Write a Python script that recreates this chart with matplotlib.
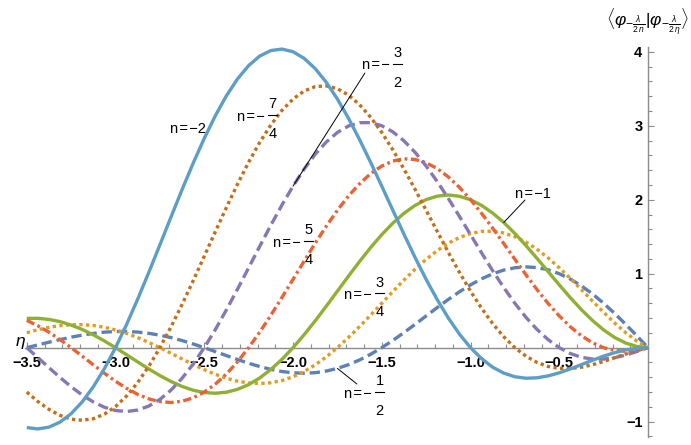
import matplotlib
matplotlib.use('Agg')
import matplotlib.pyplot as plt
from matplotlib.transforms import Affine2D
from matplotlib.lines import Line2D

plt.rcParams['font.family'] = ['Liberation Sans', 'DejaVu Sans']
plt.rcParams['mathtext.fontset'] = 'custom'
plt.rcParams['mathtext.rm'] = 'Liberation Sans'
plt.rcParams['mathtext.it'] = 'Liberation Sans:italic'
plt.rcParams['mathtext.bf'] = 'Liberation Sans:bold'
plt.rcParams['lines.scale_dashes'] = False

# ---------------- data ----------------
eta = [-3.5, -3.4375, -3.375, -3.3125, -3.25, -3.1875, -3.125, -3.0625,
       -3.0, -2.9375, -2.875, -2.8125, -2.75, -2.6875, -2.625, -2.5625,
       -2.5, -2.4375, -2.375, -2.3125, -2.25, -2.1875, -2.125, -2.0625,
       -2.0, -1.9375, -1.875, -1.8125, -1.75, -1.6875, -1.625, -1.5625,
       -1.5, -1.4375, -1.375, -1.3125, -1.25, -1.1875, -1.125, -1.0625,
       -1.0, -0.9375, -0.875, -0.8125, -0.75, -0.6875, -0.625, -0.5625,
       -0.5, -0.4375, -0.375, -0.3125, -0.25, -0.1875, -0.125, -0.0625, 0.0]

n_m2 = [-1.080, -1.098, -1.074, -1.006, -0.892, -0.732, -0.528, -0.283,
        0.000, 0.315, 0.657, 1.018, 1.390, 1.766, 2.137, 2.494,
        2.829, 3.136, 3.406, 3.633, 3.813, 3.942, 4.016, 4.036,
        4.000, 3.911, 3.772, 3.587, 3.361, 3.101, 2.812, 2.504,
        2.183, 1.857, 1.534, 1.220, 0.923, 0.649, 0.401, 0.184,
        0.000, -0.149, -0.264, -0.344, -0.393, -0.413, -0.407, -0.381,
        -0.340, -0.287, -0.229, -0.170, -0.114, -0.067, -0.031, -0.008, 0.000]

n_m7_4 = [-0.600, -0.728, -0.834, -0.915, -0.966, -0.981, -0.960, -0.898,
          -0.796, -0.653, -0.471, -0.252, 0.000, 0.281, 0.585, 0.905,
          1.236, 1.569, 1.896, 2.212, 2.507, 2.775, 3.010, 3.207,
          3.361, 3.469, 3.529, 3.538, 3.500, 3.415, 3.284, 3.114,
          2.909, 2.674, 2.415, 2.141, 1.857, 1.571, 1.289, 1.018,
          0.764, 0.532, 0.325, 0.147, 0.000, -0.115, -0.200, -0.254,
          -0.280, -0.282, -0.264, -0.230, -0.186, -0.135, -0.085, -0.038, 0.000]

n_m3_2 = [0.000, -0.134, -0.270, -0.403, -0.528, -0.640, -0.734, -0.805,
          -0.849, -0.863, -0.843, -0.789, -0.699, -0.574, -0.413, -0.221,
          0.000, 0.246, 0.512, 0.792, 1.080, 1.370, 1.655, 1.928,
          2.183, 2.413, 2.614, 2.780, 2.909, 2.996, 3.041, 3.042,
          3.000, 2.917, 2.796, 2.641, 2.455, 2.246, 2.017, 1.775,
          1.528, 1.281, 1.040, 0.812, 0.600, 0.410, 0.246, 0.108,
          0.000, -0.079, -0.130, -0.154, -0.154, -0.135, -0.099, -0.052, 0.000]

n_m5_4 = [0.369, 0.296, 0.209, 0.109, 0.000, -0.115, -0.232, -0.346,
          -0.454, -0.550, -0.631, -0.692, -0.729, -0.741, -0.724, -0.678,
          -0.600, -0.492, -0.355, -0.190, 0.000, 0.211, 0.438, 0.678,
          0.923, 1.170, 1.412, 1.642, 1.857, 2.050, 2.216, 2.353,
          2.455, 2.523, 2.553, 2.544, 2.500, 2.421, 2.308, 2.167,
          2.001, 1.815, 1.615, 1.406, 1.194, 0.985, 0.784, 0.597,
          0.429, 0.282, 0.161, 0.066, 0.000, -0.038, -0.049, -0.036, 0.000]

n_m1 = [0.396, 0.397, 0.382, 0.352, 0.306, 0.246, 0.174, 0.091,
        0.000, -0.096, -0.193, -0.288, -0.377, -0.457, -0.524, -0.575,
        -0.606, -0.616, -0.602, -0.563, -0.499, -0.409, -0.295, -0.158,
        0.000, 0.175, 0.363, 0.561, 0.764, 0.967, 1.165, 1.354,
        1.528, 1.683, 1.816, 1.923, 2.001, 2.048, 2.064, 2.047,
        2.000, 1.923, 1.819, 1.692, 1.543, 1.380, 1.206, 1.028,
        0.849, 0.676, 0.513, 0.367, 0.240, 0.137, 0.062, 0.016, 0.000]

n_m3_4 = [0.202, 0.243, 0.275, 0.298, 0.310, 0.311, 0.300, 0.276,
          0.240, 0.193, 0.136, 0.071, 0.000, -0.075, -0.152, -0.226,
          -0.297, -0.360, -0.413, -0.453, -0.477, -0.485, -0.474, -0.444,
          -0.393, -0.322, -0.232, -0.124, 0.000, 0.138, 0.286, 0.441,
          0.600, 0.759, 0.914, 1.060, 1.194, 1.312, 1.412, 1.489,
          1.543, 1.572, 1.575, 1.550, 1.500, 1.427, 1.329, 1.213,
          1.080, 0.936, 0.784, 0.630, 0.478, 0.333, 0.202, 0.089, 0.000]

n_m1_2 = [0.000, 0.037, 0.074, 0.109, 0.142, 0.170, 0.193, 0.210,
          0.218, 0.219, 0.211, 0.194, 0.169, 0.136, 0.096, 0.050,
          0.000, -0.053, -0.107, -0.160, -0.211, -0.255, -0.293, -0.322,
          -0.340, -0.345, -0.338, -0.316, -0.280, -0.230, -0.166, -0.089,
          0.000, 0.098, 0.204, 0.315, 0.429, 0.542, 0.652, 0.755,
          0.849, 0.931, 0.998, 1.049, 1.080, 1.092, 1.083, 1.053,
          1.000, 0.927, 0.835, 0.726, 0.600, 0.462, 0.314, 0.159, 0.000]

x_ticks = [-3.5, -3.0, -2.5, -2.0, -1.5, -1.0, -0.5]
x_tick_labels = ['\u22123.5', '\u22123.0', '\u22122.5', '\u22122.0',
                 '\u22121.5', '\u22121.0', '\u22120.5']
x_minor = [-3.4, -3.3, -3.2, -3.1, -2.9, -2.8, -2.7, -2.6, -2.4, -2.3, -2.2,
           -2.1, -1.9, -1.8, -1.7, -1.6, -1.4, -1.3, -1.2, -1.1, -0.9, -0.8,
           -0.7, -0.6, -0.4, -0.3, -0.2, -0.1]
y_ticks = [-1, 1, 2, 3, 4]
y_tick_labels = ['\u22121', '1', '2', '3', '4']
y_minor = [-1.2, -0.8, -0.6, -0.4, -0.2, 0.2, 0.4, 0.6, 0.8, 1.2, 1.4, 1.6,
           1.8, 2.2, 2.4, 2.6, 2.8, 3.2, 3.4, 3.6, 3.8, 4.0]

# ---------------- styling ----------------
W, H = 691, 445
fig = plt.figure(figsize=(W / 100, H / 100), dpi=100)
ax = fig.add_axes([25 / W, 7.8 / H, 623 / W, 389.9 / H])
ax.set_xlim(-3.51, 0.0)
ax.set_ylim(-1.21, 4.06)
ax.patch.set_visible(False)

axis_gray = '#8c8c8c'
for side in ('top', 'right'):
    ax.spines[side].set_visible(False)
ax.spines['left'].set_position(('data', 0))
ax.spines['bottom'].set_position(('data', 0))
for side in ('left', 'bottom'):
    ax.spines[side].set_color(axis_gray)
    ax.spines[side].set_linewidth(1.0)
    ax.spines[side].set_zorder(1)

ax.set_xticks(x_ticks)
ax.set_xticklabels(x_tick_labels, fontweight='bold')
ax.set_xticks(x_minor, minor=True)
ax.set_yticks(y_ticks)
ax.set_yticklabels(y_tick_labels, fontweight='bold')
ax.set_yticks(y_minor, minor=True)
ax.tick_params(axis='both', which='major', direction='in', length=4.5,
               width=0.8, color=axis_gray, labelsize=10.5, labelcolor='black')
ax.tick_params(axis='both', which='minor', direction='in', length=2.6,
               width=0.8, color=axis_gray)
ax.tick_params(axis='x', which='major', pad=6)
ax.tick_params(axis='y', which='major', pad=4)

series = [
    (n_m1_2, '#5E81B5', (0, (7.5, 3.5)), 3),
    (n_m3_4, '#E19C24', (0, (2.4, 2.4)), 4),
    (n_m1, '#8FB032', '-', 5),
    (n_m5_4, '#EB6235', (0, (6.0, 2.5, 2.0, 2.5)), 6),
    (n_m3_2, '#8778B3', (0, (7.5, 3.5)), 7),
    (n_m7_4, '#C56E1A', (0, (2.4, 2.4)), 8),
    (n_m2, '#5D9EC7', '-', 9),
]
for vals, col, ls, z in series:
    ax.plot(eta, vals, color=col, lw=2.4, linestyle=ls, dash_capstyle='butt',
            solid_capstyle='butt', zorder=z, clip_on=False)

FS = 10.5
HS = '\u200a'  # hair space
PREFIX = 'n' + HS + '=' + HS + '\u2212'


def frac_label(x, y, num, den):
    """'n = -num/den' label: (x, y) = left of 'n', height of the fraction bar."""
    px, py = ax.transData.transform((x, y))
    tr = Affine2D().translate(px, py)
    ax.text(0, -5.7, PREFIX, transform=tr, ha='left', va='baseline',
            fontsize=FS, zorder=12)
    ax.add_line(Line2D([31.5, 40.0], [0, 0], transform=tr, color='black',
                       lw=0.8, zorder=12))
    ax.text(35.8, 6.7, num, transform=tr, ha='center', va='baseline',
            fontsize=FS, zorder=12)
    ax.text(35.8, -23, den, transform=tr, ha='center', va='baseline',
            fontsize=FS, zorder=12)


ax.text(-2.49, 2.901, PREFIX + '2', ha='right', va='baseline', fontsize=FS, zorder=12)
ax.text(-0.749, 2.023, PREFIX + '1', ha='left', va='baseline', fontsize=FS, zorder=12)
frac_label(-2.316, 3.143, '7', '4')
frac_label(-1.612, 3.839, '3', '2')
frac_label(-2.113, 1.442, '5', '4')
frac_label(-1.713, 0.735, '3', '4')
frac_label(-1.713, -0.599, '1', '2')

# leader lines from labels to their curves
lead = dict(arrowstyle='-', color='black', lw=0.7, shrinkA=0, shrinkB=0)
ax.annotate('', xy=(eta[24], n_m3_2[24]), xytext=(-1.595, 3.712),
            arrowprops=lead, zorder=12)
ax.annotate('', xy=(eta[43], n_m1[43]), xytext=(-0.693, 1.996),
            arrowprops=lead, zorder=12)
ax.annotate('', xy=(eta[28], n_m1_2[28]), xytext=(-1.640, -0.491),
            arrowprops=lead, zorder=12)

# axis labels
fig.text(648 / W, 1 - 22 / H,
         r'$\langle\varphi_{-\frac{\lambda}{2\,n}}|\varphi_{-\frac{\lambda}{2\,\eta}}\rangle$',
         ha='center', va='center', fontsize=12.5)
fig.text(20 / W, 1 - 343 / H, r'$\eta$', ha='center', va='center', fontsize=12.5)

fig.savefig('out.png', dpi=100)
